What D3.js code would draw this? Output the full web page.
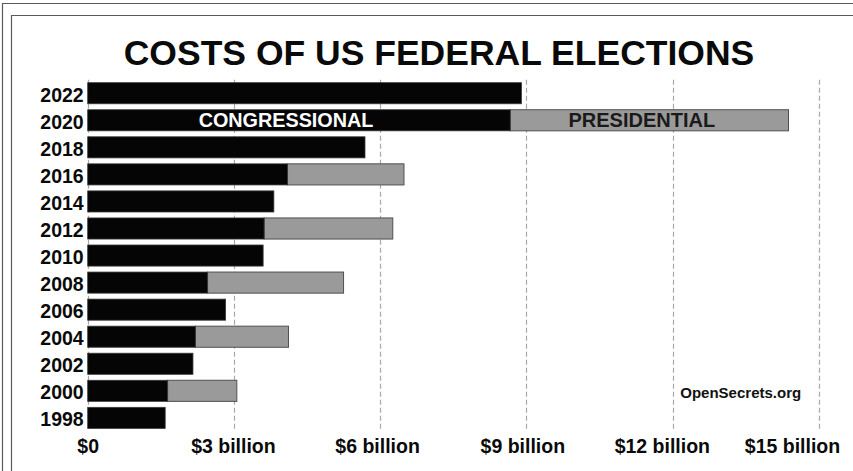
<!DOCTYPE html>
<html>
<head>
<meta charset="utf-8">
<script src="https://cdn.jsdelivr.net/npm/d3@7"></script>
<style>
  html, body { margin: 0; padding: 0; background: #fff; }
  svg { display: block; font-family: "Liberation Sans", Arial, sans-serif; }
</style>
</head>
<body>
<svg id="chart" width="853" height="471"></svg>
<script>
// ---- data ----
const years = ["2022","2020","2018","2016","2014","2012","2010","2008","2006","2004","2002","2000","1998"];
const congressional = [8.9, 8.67, 5.69, 4.1, 3.82, 3.62, 3.6, 2.46, 2.83, 2.21, 2.16, 1.64, 1.59];
const presidential  = [0, 5.71, 0, 2.39, 0, 2.64, 0, 2.79, 0, 1.91, 0, 1.42, 0];
const tickValues = [0, 3, 6, 9, 12, 15];
const tickLabels = ["$0", "$3 billion", "$6 billion", "$9 billion", "$12 billion", "$15 billion"];
const titleText = "COSTS OF US FEDERAL ELECTIONS";
const sourceText = "OpenSecrets.org";
const seriesLabels = ["CONGRESSIONAL", "PRESIDENTIAL"];
const labelYear = "2020";
const labelPos = [4.07, 11.37]; // billions, along the 2020 bar
const sourcePos = 13.4;          // billions

// ---- layout (pixel nudges for bottom labels, as in the original artwork) ----
const tickLabelShift = [0, -1, -3, -4, -10.7, -26.7];

const svg = d3.select("#chart");

// frame
const frame = svg.append("g").attr("stroke", "#5a5a5a").attr("stroke-width", 1.2).attr("fill", "none");
frame.append("path").attr("d", "M2.5,471V3.5H853");
frame.append("path").attr("d", "M11.5,471V15.5H853");

const x = d3.scaleLinear().domain([0, 15]).range([87.7, 818.7]);
const y = d3.scaleBand().domain(years).range([79.7, 431.4]).paddingInner(0.22).paddingOuter(0.11);

// title
svg.append("text")
  .attr("x", 439).attr("y", 65)
  .attr("text-anchor", "middle")
  .attr("font-weight", "bold").attr("font-size", 35.5).attr("fill", "#0a0a0a")
  .text(titleText);

// gridlines
svg.append("g").selectAll("line").data(tickValues).join("line")
  .attr("x1", d => Math.round(x(d)) + 0.5).attr("x2", d => Math.round(x(d)) + 0.5)
  .attr("y1", y.range()[0]).attr("y2", y.range()[1] - 1)
  .attr("stroke", "#a8a8a8").attr("stroke-width", 1.2)
  .attr("stroke-dasharray", "5,3");

const rows = years.map((yr, i) => ({ yr, c: congressional[i], p: presidential[i] }));

// presidential (gray) segments
svg.append("g").selectAll("rect").data(rows.filter(d => d.p > 0)).join("rect")
  .attr("x", d => x(d.c)).attr("y", d => y(d.yr))
  .attr("width", d => x(d.c + d.p) - x(d.c)).attr("height", y.bandwidth())
  .attr("fill", "#9a9a9a").attr("stroke", "#505050").attr("stroke-width", 1);

// congressional (black) segments
svg.append("g").selectAll("rect").data(rows).join("rect")
  .attr("x", x(0)).attr("y", d => y(d.yr))
  .attr("width", d => x(d.c) - x(0)).attr("height", y.bandwidth())
  .attr("fill", "#050505").attr("stroke", "#3a3a3a").attr("stroke-width", 0.8);

// y axis (years)
const yAxis = svg.append("g")
  .attr("transform", `translate(${x(0) - 4},0)`)
  .call(d3.axisLeft(y).tickSize(0).tickPadding(0));
yAxis.select(".domain").remove();
yAxis.selectAll("text")
  .attr("font-family", "'Liberation Sans', Arial, sans-serif")
  .attr("font-weight", "bold").attr("font-size", 19.5).attr("fill", "#0a0a0a")
  .attr("dy", "0.43em").attr("dx", 0);

// x axis (bottom labels)
const xAxis = svg.append("g")
  .attr("transform", `translate(0,${y.range()[1]})`)
  .call(d3.axisBottom(x).tickValues(tickValues).tickFormat((d, i) => tickLabels[i]).tickSize(0).tickPadding(0));
xAxis.select(".domain").remove();
xAxis.selectAll("text")
  .attr("font-family", "'Liberation Sans', Arial, sans-serif")
  .attr("font-weight", "bold").attr("font-size", 19.5).attr("fill", "#0a0a0a")
  .attr("y", 21.5).attr("dy", 0)
  .attr("dx", (d, i) => tickLabelShift[i]);

// series labels inside 2020 bar
const by = y(labelYear) + y.bandwidth() / 2;
svg.append("text").attr("x", x(labelPos[0])).attr("y", by + 6.8)
  .attr("text-anchor", "middle").attr("font-weight", "bold").attr("font-size", 19.8)
  .attr("fill", "#ffffff").text(seriesLabels[0]);
svg.append("text").attr("x", x(labelPos[1])).attr("y", by + 6.8)
  .attr("text-anchor", "middle").attr("font-weight", "bold").attr("font-size", 20)
  .attr("fill", "#1a1a1a").text(seriesLabels[1]);

// source
svg.append("text").attr("x", x(sourcePos)).attr("y", 397.5)
  .attr("text-anchor", "middle").attr("font-weight", "bold").attr("font-size", 15)
  .attr("fill", "#111").text(sourceText);
</script>
</body>
</html>
